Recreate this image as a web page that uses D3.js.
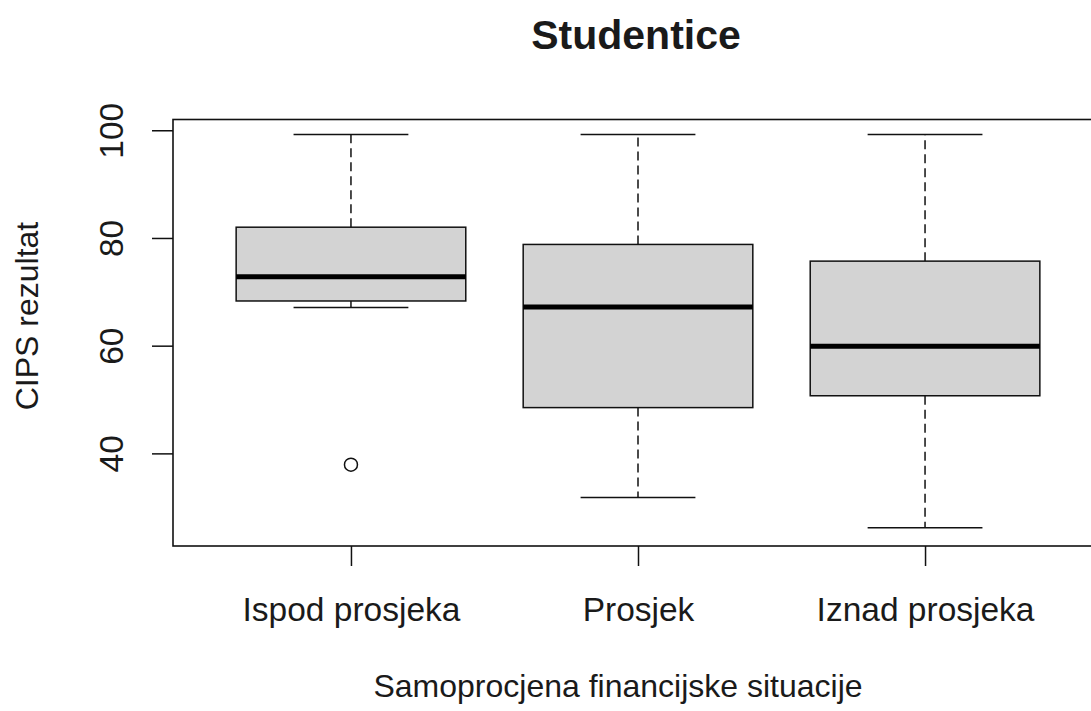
<!DOCTYPE html>
<html>
<head>
<meta charset="utf-8">
<script src="https://cdn.jsdelivr.net/npm/d3@7"></script>
<style>
  html, body { margin: 0; padding: 0; background: #fff; }
  svg { display: block; }
  text { font-family: "Liberation Sans", Arial, sans-serif; fill: #1a1a1a; }
</style>
</head>
<body>
<svg id="chart" width="1091" height="711"></svg>
<script>
// ---- data ----
const categories = ["Ispod prosjeka", "Prosjek", "Iznad prosjeka"];
const whiskerLow = [67.1, 31.8, 26.2];
const q1Values = [68.3, 48.5, 50.7];
const medianValues = [72.8, 67.2, 59.9];
const q3Values = [82.0, 78.8, 75.7];
const whiskerHigh = [99.2, 99.2, 99.2];
const outlierCategory = ["Ispod prosjeka"];
const outlierValues = [37.9];
const yTicks = [40, 60, 80, 100];
const title = "Studentice";
const xTitle = "Samoprocjena financijske situacije";
const yTitle = "CIPS rezultat";

// ---- layout ----
const svg = d3.select("#chart");
const plotL = 173, plotR = 1103, plotT = 119.5, plotB = 546;
const fs = 33.5;

const x = d3.scaleLinear().domain([0.38, 3.62]).range([plotL, plotR]);
const y = d3.scaleLinear().domain([22.8, 102]).range([plotB, plotT]);
const boxW = x(1.8) - x(1);   // boxwex 0.8
const capW = boxW / 2;

const boxes = categories.map((c, i) => ({
  cat: c, cx: x(i + 1),
  lo: whiskerLow[i], q1: q1Values[i], med: medianValues[i], q3: q3Values[i], hi: whiskerHigh[i]
}));

const g = svg.append("g");

// whiskers (dashed)
g.selectAll(".wUp").data(boxes).enter().append("line")
  .attr("x1", d => d.cx).attr("x2", d => d.cx)
  .attr("y1", d => y(d.q3)).attr("y2", d => y(d.hi))
  .attr("stroke", "#111").attr("stroke-width", 1.5).attr("stroke-dasharray", "9,5");
g.selectAll(".wLo").data(boxes).enter().append("line")
  .attr("x1", d => d.cx).attr("x2", d => d.cx)
  .attr("y1", d => y(d.q1)).attr("y2", d => y(d.lo))
  .attr("stroke", "#111").attr("stroke-width", 1.5).attr("stroke-dasharray", "9,5");

// caps
["hi", "lo"].forEach(k => {
  g.selectAll(".cap" + k).data(boxes).enter().append("line")
    .attr("x1", d => d.cx - capW / 2).attr("x2", d => d.cx + capW / 2)
    .attr("y1", d => y(d[k])).attr("y2", d => y(d[k]))
    .attr("stroke", "#111").attr("stroke-width", 1.5);
});

// boxes
g.selectAll(".box").data(boxes).enter().append("rect")
  .attr("x", d => d.cx - boxW / 2).attr("width", boxW)
  .attr("y", d => y(d.q3)).attr("height", d => y(d.q1) - y(d.q3))
  .attr("fill", "#d3d3d3").attr("stroke", "#111").attr("stroke-width", 1.5);

// medians
g.selectAll(".med").data(boxes).enter().append("line")
  .attr("x1", d => d.cx - boxW / 2).attr("x2", d => d.cx + boxW / 2)
  .attr("y1", d => y(d.med)).attr("y2", d => y(d.med))
  .attr("stroke", "#000").attr("stroke-width", 5);

// outliers
g.selectAll(".out").data(outlierValues).enter().append("circle")
  .attr("cx", (d, i) => x(categories.indexOf(outlierCategory[i]) + 1))
  .attr("cy", d => y(d)).attr("r", 6.5)
  .attr("fill", "none").attr("stroke", "#111").attr("stroke-width", 1.5);

// plot frame
svg.append("rect")
  .attr("x", plotL).attr("y", plotT).attr("width", plotR - plotL).attr("height", plotB - plotT)
  .attr("fill", "none").attr("stroke", "#111").attr("stroke-width", 1.6);

// y axis
const yAxis = svg.append("g").attr("transform", `translate(${plotL},0)`)
  .call(d3.axisLeft(y).tickValues(yTicks).tickSize(21).tickPadding(0).tickFormat(d3.format("d")));
yAxis.select(".domain").remove();
yAxis.selectAll(".tick line").attr("stroke", "#111").attr("stroke-width", 1.5);
yAxis.selectAll(".tick text")
  .attr("x", null).attr("dy", null)
  .attr("transform", "translate(-50,0) rotate(-90)")
  .attr("text-anchor", "middle")
  .style("font-size", fs + "px").style("font-family", "Liberation Sans, Arial, sans-serif")
  .attr("fill", "#1a1a1a");

// x axis
const xAxis = svg.append("g").attr("transform", `translate(0,${plotB})`)
  .call(d3.axisBottom(x).tickValues([1, 2, 3]).tickSize(20).tickPadding(0)
    .tickFormat(d => categories[d - 1]));
xAxis.select(".domain").remove();
xAxis.selectAll(".tick line").attr("stroke", "#111").attr("stroke-width", 1.5);
xAxis.selectAll(".tick text")
  .attr("y", 74.5).attr("dy", null)
  .style("font-size", fs + "px").style("font-family", "Liberation Sans, Arial, sans-serif")
  .attr("fill", "#1a1a1a");

// titles
svg.append("text").attr("x", 636).attr("y", 49)
  .attr("text-anchor", "middle").style("font-size", "41px").style("font-weight", "bold")
  .text(title);
svg.append("text").attr("x", 618).attr("y", 697)
  .attr("text-anchor", "middle").style("font-size", "32px")
  .text(xTitle);
svg.append("text").attr("transform", "translate(38,316) rotate(-90)")
  .attr("text-anchor", "middle").style("font-size", "32px")
  .text(yTitle);
</script>
</body>
</html>
